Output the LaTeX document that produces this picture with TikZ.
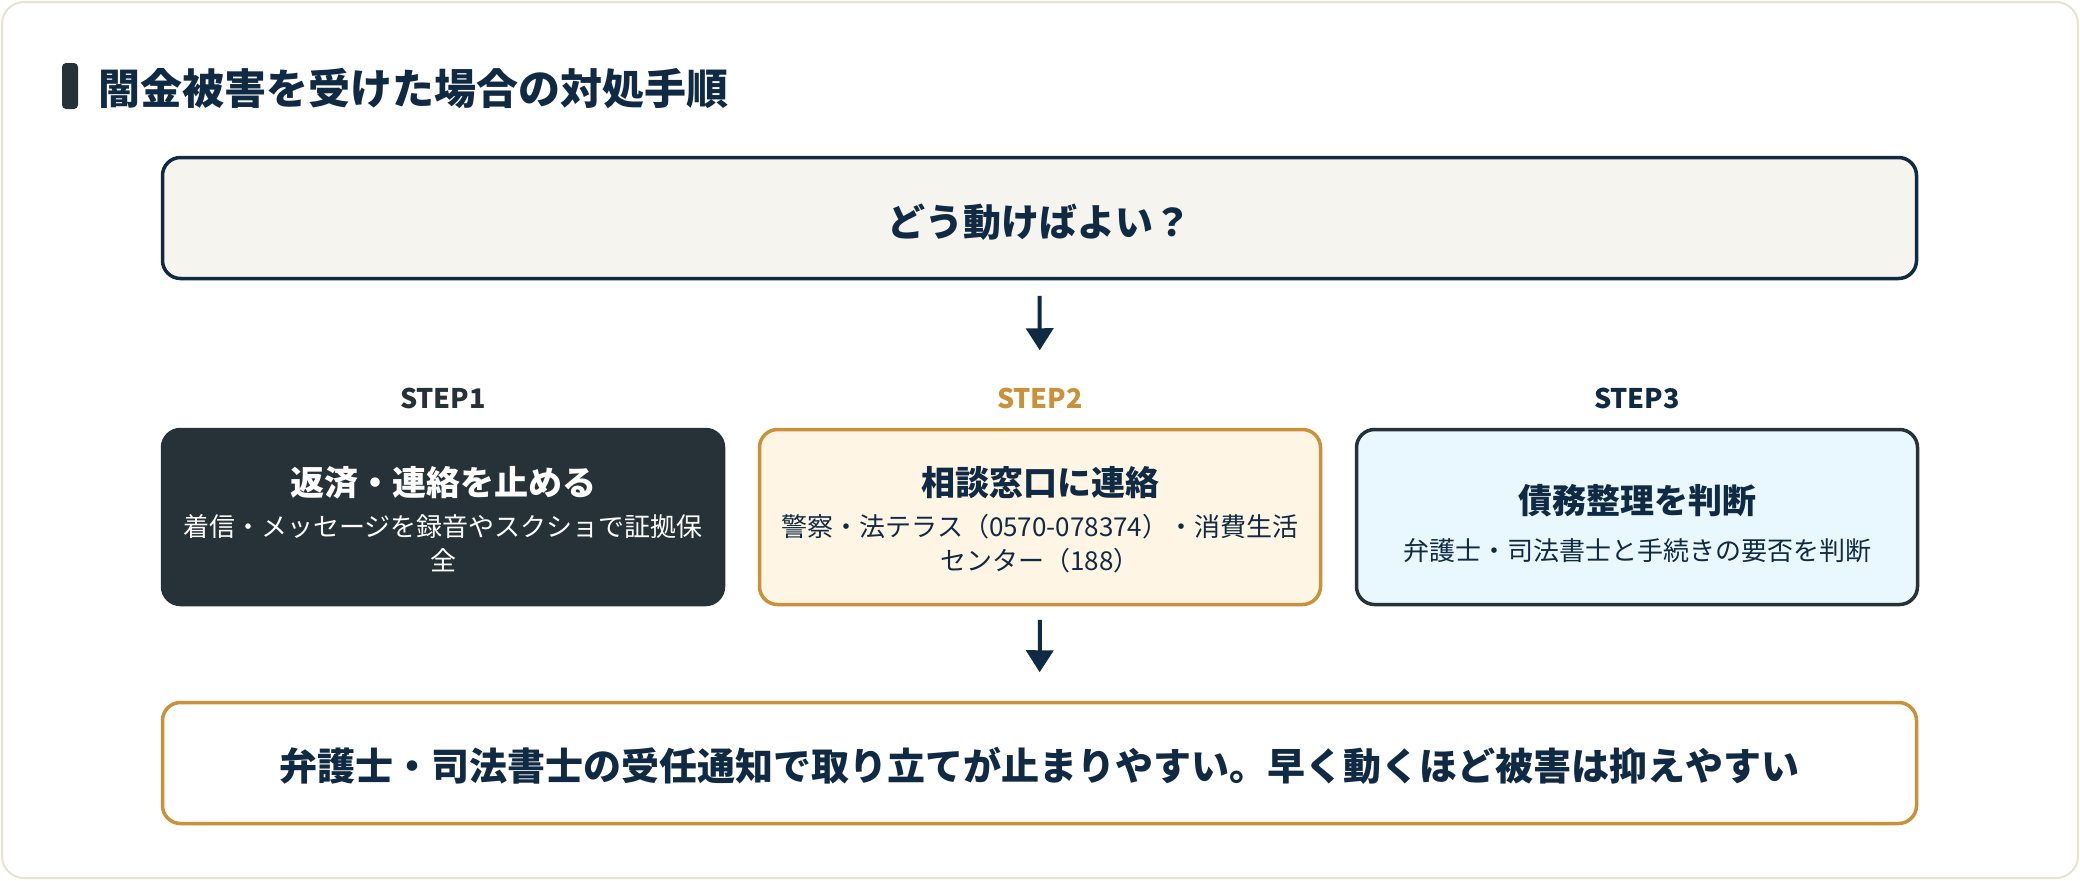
\documentclass[tikz,border=0pt]{standalone}
\usepackage{fontspec}
\setmainfont{Noto Sans CJK JP}
\usepackage{tikz}
\usetikzlibrary{arrows.meta}

\begin{document}
\begin{tikzpicture}[x=0.5pt, y=-0.5pt,
        box/.style={draw, line width=1.75pt, rounded corners=9pt, minimum width=877pt, minimum height=60.5pt},
        stepbox/.style={draw, line width=1.75pt, rounded corners=9pt, minimum width=280.5pt, minimum height=87.5pt},
        bigtext/.style={anchor=base, inner sep=0pt, text=navy, font=\fontsize{19pt}{23pt}\selectfont\bfseries},
        steplabel/.style={anchor=base, inner sep=0pt, font=\fontsize{13.5pt}{16pt}\selectfont\bfseries},
        steptitle/.style={anchor=base, inner sep=0pt, font=\fontsize{17pt}{21pt}\selectfont\bfseries},
        stepnote/.style={anchor=base, inner sep=0pt, font=\fontsize{13pt}{16pt}\selectfont},
        flow/.style={draw=navy, line width=2pt, -{Triangle[width=13.5pt,length=11pt]}}]
        \definecolor{navy}{HTML}{102A43}
        \definecolor{slate}{HTML}{263238}
        \definecolor{gold}{HTML}{C9923A}
        \definecolor{cream}{HTML}{FFF5E5}
        \definecolor{skyfill}{HTML}{E9F8FE}
        \definecolor{askfill}{HTML}{F5F4EF}
        \definecolor{cardline}{HTML}{E6E3D6}

        \useasboundingbox (0,0) rectangle (2080,880);
        \draw[cardline, line width=1pt, fill=white, rounded corners=11pt] (2,2) rectangle (2078,878);

        % heading
        \fill[slate, rounded corners=2pt] (62,63) rectangle (78,109);
        \node[anchor=base west, inner sep=0pt, text=navy, font=\fontsize{21pt}{25pt}\selectfont\bfseries] (heading) at (98,104) {闇金被害を受けた場合の対処手順};

        % question
        \node[box, draw=navy, fill=askfill] (ask) at (1039.5,218) {};
        \node[bigtext] (asktxt) at (1039.5,236) {どう動けばよい？};

        % steps
        \node[steplabel, text=slate] (lbl1) at (443,408) {STEP1};
        \node[steplabel, text=gold] (lbl2) at (1040,408) {STEP2};
        \node[steplabel, text=navy] (lbl3) at (1637,408) {STEP3};

        \node[stepbox, draw=slate, fill=slate] (s1) at (443,517) {};
        \node[stepbox, draw=gold, fill=cream] (s2) at (1040,517) {};
        \node[stepbox, draw=slate, fill=skyfill] (s3) at (1637,517) {};

        \node[steptitle, text=white] (s1t) at (443,495) {返済・連絡を止める};
        \node[stepnote, text=white] (s1a) at (443,536) {着信・メッセージを録音やスクショで証拠保};
        \node[stepnote, text=white] (s1b) at (443,570) {全};

        \node[steptitle, text=navy] (s2t) at (1040,495) {相談窓口に連絡};
        \node[stepnote, text=navy] (s2a) at (1040,536) {警察・法テラス（0570-078374）・消費生活};
        \node[stepnote, text=navy] (s2b) at (1040,570) {センター（188）};

        \node[steptitle, text=navy] (s3t) at (1637,513) {債務整理を判断};
        \node[stepnote, text=navy] (s3a) at (1637,560) {弁護士・司法書士と手続きの要否を判断};

        % result
        \node[box, draw=gold, fill=white] (last) at (1039.5,763) {};
        \node[bigtext] (lasttxt) at (1039.5,780) {弁護士・司法書士の受任通知で取り立てが止まりやすい。早く動くほど被害は抑えやすい};

        \draw[flow, shorten <=7.75pt, shorten >=38.75pt] (ask.south) -- (s2.north);
        \draw[flow, shorten <=6.75pt, shorten >=14.25pt] (s2.south) -- (last.north);
    \end{tikzpicture}
\end{document}
